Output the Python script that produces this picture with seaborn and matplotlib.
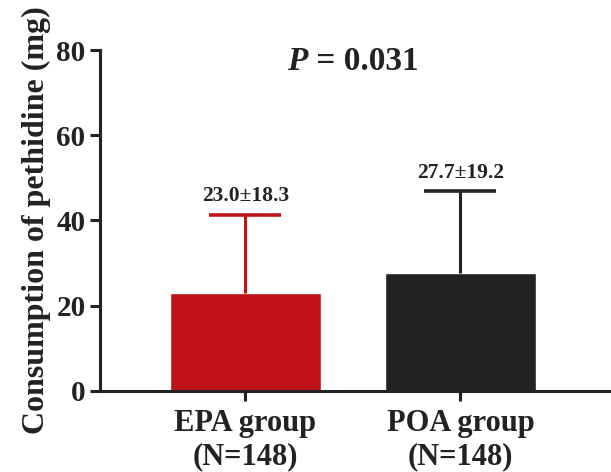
import numpy as np
import pandas as pd
import seaborn as sns
import matplotlib.pyplot as plt

# values
groups = ['EPA group\n(N=148)', 'POA group\n(N=148)']
means = [23.0, 27.7]
sds = [18.3, 19.2]
labels = ['23.0\u00b118.3', '27.7\u00b119.2']
bar_colors = ['#be1218', '#222222']
p_text = 'P'
p_value = ' = 0.031'

sns.set_theme(style='ticks')
plt.rcParams['font.family'] = ['Liberation Serif', 'DejaVu Serif']
plt.rcParams['font.weight'] = 'bold'

df = pd.DataFrame({'group': groups, 'mean': means, 'sd': sds})

fig = plt.figure(figsize=(6.11, 4.72), dpi=100)
ax = fig.add_axes([0.164, 0.172, 0.836, 0.722])

sns.barplot(data=df, x='group', y='mean', hue='group', palette=bar_colors,
            width=0.70, errorbar=None, legend=False, ax=ax, saturation=1)

# upper-only SD error bars (hide the cap at the bar top)
for i, (m, s, c) in enumerate(zip(means, sds, bar_colors)):
    eb = ax.errorbar(i, m, yerr=[[0], [s]], color=c, lw=2.2, capsize=26,
                     capthick=2.6, zorder=1)
    eb[1][0].set_visible(False)
    ax.text(i, m + s + 2, labels[i], ha='center', va='bottom',
            fontsize=15.5, fontweight='bold', color='#222222')

ax.set_ylim(0, 80)
ax.set_yticks([0, 20, 40, 60, 80])
ax.set_xlim(-0.674, 1.70)
ax.set_xlabel('')
ax.set_ylabel('Consumption of pethidine (mg)', fontsize=23, fontweight='bold',
              color='#222222', labelpad=4)
ax.tick_params(axis='both', width=2.2, length=7, labelsize=21, colors='#222222')
for lbl in ax.get_xticklabels() + ax.get_yticklabels():
    lbl.set_fontweight('bold')
ax.tick_params(axis='x', labelsize=22, pad=6)

sns.despine(ax=ax)
for side in ['left', 'bottom']:
    ax.spines[side].set_linewidth(2.2)
    ax.spines[side].set_color('#222222')

ax.text(0.406, 0.965, p_text, transform=ax.transAxes, ha='right', va='center',
        fontsize=24, fontweight='bold', fontstyle='italic', color='#222222')
ax.text(0.406, 0.965, p_value, transform=ax.transAxes, ha='left', va='center',
        fontsize=24, fontweight='bold', color='#222222')

fig.savefig('out.png', dpi=100)
